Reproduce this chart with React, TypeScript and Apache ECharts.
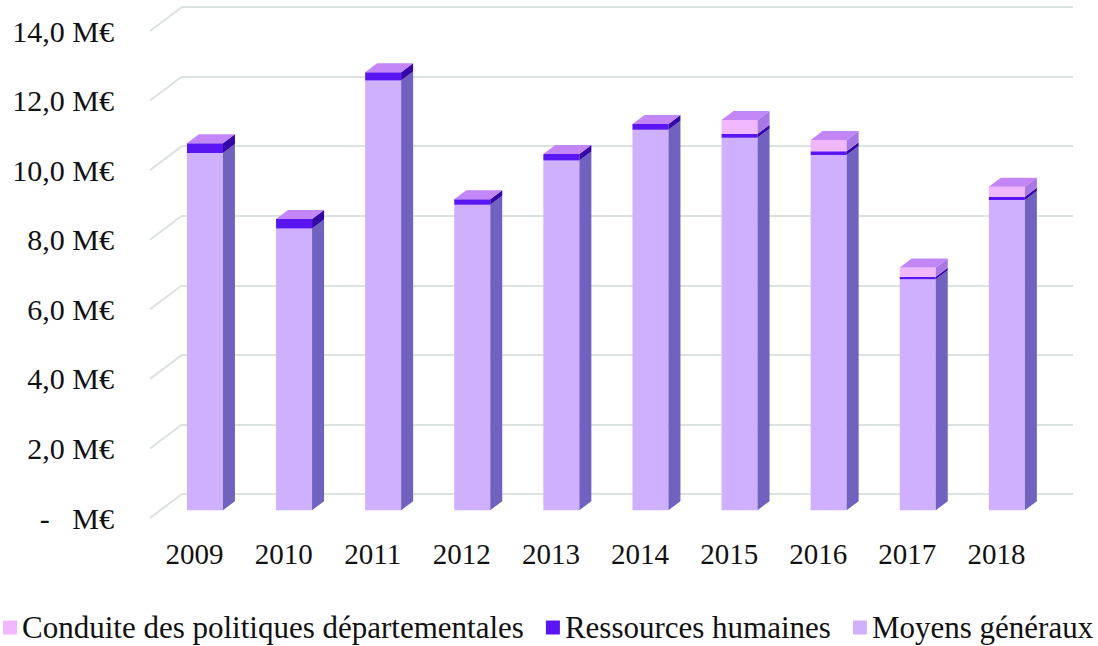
import React, { useEffect, useRef } from "react";
import * as echarts from "echarts";

const years = ["2009", "2010", "2011", "2012", "2013", "2014", "2015", "2016", "2017", "2018"];
const moyensGeneraux = [10.27, 8.1, 12.35, 8.78, 10.05, 10.94, 10.71, 10.21, 6.64, 8.92];
const ressourcesHumaines = [0.28, 0.27, 0.24, 0.16, 0.19, 0.16, 0.11, 0.11, 0.07, 0.09];
const conduitePolitiques = [0, 0, 0, 0, 0, 0, 0.4, 0.32, 0.27, 0.29];
const yTicks = [0, 2, 4, 6, 8, 10, 12, 14];

const seriesDefs = [
  { name: "Conduite des politiques départementales", values: conduitePolitiques, front: "#F2B8FF", side: "#A878E4" },
  { name: "Ressources humaines", values: ressourcesHumaines, front: "#5A16F2", side: "#3406A6" },
  { name: "Moyens généraux", values: moyensGeneraux, front: "#CEB0FF", side: "#7062BE" },
];
const stackOrder = [2, 1, 0]; // bottom to top
const TOP_COLOR = "#C286F6";
const FONT = "'Liberation Serif', 'Times New Roman', serif";

// geometry of the pseudo-3D projection
const DEPTH_X = -32;
const DEPTH_Y = 24;
const FRONT_FRAC = 0.675;
const BAR_DEPTH_X = 12;
const BAR_DEPTH_Y = -9;
const BAR_W = 36;

export default function App() {
  const ref = useRef<HTMLDivElement>(null);
  useEffect(() => {
    if (!ref.current) return;
    const chart = echarts.init(ref.current, undefined, { renderer: "svg" });

    const bases: number[] = years.map(() => 0);
    const stacked: Record<number, number[][]> = {};
    stackOrder.forEach((si, k) => {
      const vals = seriesDefs[si].values;
      stacked[si] = years.map((_, i) => {
        const b = bases[i];
        const t = b + vals[i];
        bases[i] = t;
        let isTop = 1;
        for (let m = k + 1; m < stackOrder.length; m++) {
          if (seriesDefs[stackOrder[m]].values[i] > 0) isTop = 0;
        }
        return [i, b, t, isTop];
      });
    });

    const barSeries = seriesDefs.map((def, si) => ({
      type: "custom",
      name: def.name,
      xAxisIndex: 0,
      yAxisIndex: 0,
      itemStyle: { color: def.front },
      encode: { x: 0, y: 2 },
      z: 5 + (2 - si),
      data: stacked[si],
      renderItem: (params: any, api: any) => {
        const i = api.value(0);
        const b = api.value(1);
        const t = api.value(2);
        const isTop = api.value(3);
        if (t - b <= 0) return { type: "group", children: [] };
        const pb = api.coord([i, b]);
        const pt = api.coord([i, t]);
        const cx = pb[0] + DEPTH_X * FRONT_FRAC;
        const xl = cx - BAR_W / 2;
        const xr = cx + BAR_W / 2;
        const yb = pb[1] + DEPTH_Y * FRONT_FRAC;
        const yt = pt[1] + DEPTH_Y * FRONT_FRAC;
        const children: any[] = [
          { type: "rect", shape: { x: xl, y: yt, width: BAR_W, height: yb - yt }, style: { fill: def.front } },
          {
            type: "polygon",
            shape: { points: [[xr, yt], [xr + BAR_DEPTH_X, yt + BAR_DEPTH_Y], [xr + BAR_DEPTH_X, yb + BAR_DEPTH_Y], [xr, yb]] },
            style: { fill: def.side },
          },
        ];
        if (isTop) {
          children.push({
            type: "polygon",
            shape: { points: [[xl, yt], [xl + BAR_DEPTH_X, yt + BAR_DEPTH_Y], [xr + BAR_DEPTH_X, yt + BAR_DEPTH_Y], [xr, yt]] },
            style: { fill: TOP_COLOR },
          });
        }
        return { type: "group", children };
      },
    }));

    const diagSeries = {
      type: "custom",
      name: "diag",
      xAxisIndex: 0,
      yAxisIndex: 0,
      silent: true,
      z: 1,
      data: yTicks.map((v) => [0, v]),
      encode: { x: 0, y: 1 },
      renderItem: (params: any, api: any) => {
        const cs = params.coordSys;
        const p = api.coord([0, api.value(1)]);
        return {
          type: "line",
          shape: { x1: cs.x, y1: p[1], x2: cs.x + DEPTH_X, y2: p[1] + DEPTH_Y },
          style: { stroke: "#DCE1E1", lineWidth: 2 },
        };
      },
    };

    chart.setOption({
      animation: false,
      backgroundColor: "#ffffff",
      grid: [
        { left: 182, right: 25, top: 7, bottom: 152 },
        { left: 150, right: 57, top: 31, bottom: 128 },
      ],
      xAxis: [
        {
          gridIndex: 0,
          type: "category",
          data: years,
          boundaryGap: true,
          axisLine: { show: false },
          axisTick: { show: false },
          axisLabel: { show: false },
        },
        {
          gridIndex: 1,
          type: "category",
          data: years,
          boundaryGap: true,
          axisLine: { show: false },
          axisTick: { show: false },
          axisLabel: { fontSize: 29, fontFamily: FONT, color: "#111", margin: 21 },
        },
      ],
      yAxis: [
        {
          gridIndex: 0,
          type: "value",
          min: 0,
          max: 14,
          interval: 2,
          axisLine: { show: false },
          axisTick: { show: false },
          axisLabel: { show: false },
          splitLine: { show: true, lineStyle: { color: "#DCE1E1", width: 2 } },
        },
        {
          gridIndex: 1,
          type: "value",
          min: 0,
          max: 14,
          interval: 2,
          axisLine: { show: false },
          axisTick: { show: false },
          splitLine: { show: false },
          axisLabel: {
            fontSize: 30,
            fontFamily: FONT,
            color: "#111",
            margin: 36,
            formatter: (v: number) => (v === 0 ? "-\u00a0\u00a0\u00a0M€" : v.toFixed(1).replace(".", ",") + " M€"),
          },
        },
      ],
      legend: {
        data: seriesDefs.map((d) => d.name),
        left: 3,
        top: 612,
        padding: 0,
        itemWidth: 14,
        itemHeight: 14,
        itemGap: 22,
        icon: "rect",
        textStyle: { fontSize: 31, fontFamily: FONT, color: "#111" },
      },
      series: [diagSeries, ...barSeries],
    });
    return () => chart.dispose();
  }, []);
  return <div ref={ref} style={{ position: "absolute", left: 0, top: 0, width: 1098, height: 646 }} />;
}
